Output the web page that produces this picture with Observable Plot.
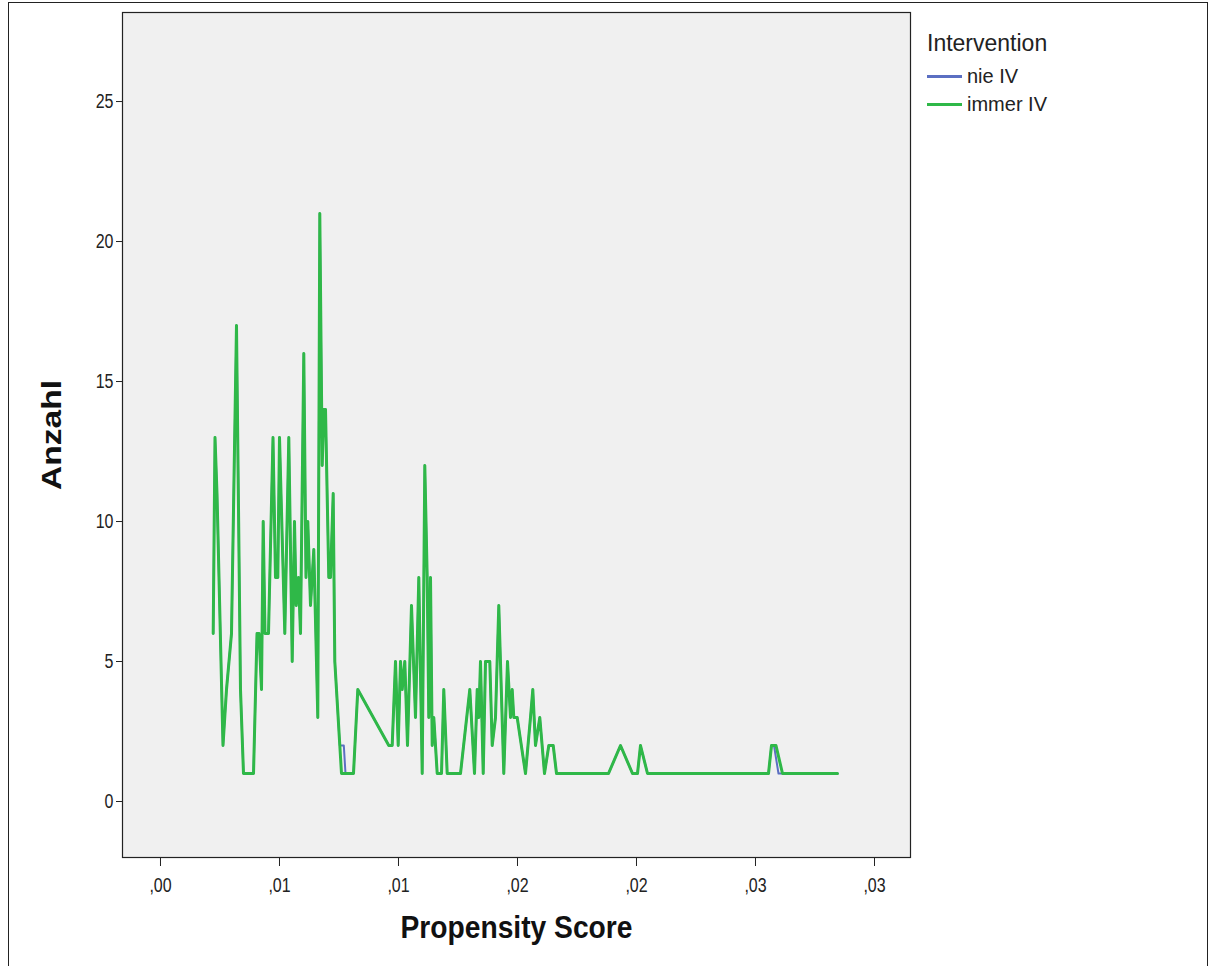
<!DOCTYPE html>
<html>
<head>
<meta charset="utf-8">
<script src="https://cdn.jsdelivr.net/npm/d3@7"></script>
<script src="https://cdn.jsdelivr.net/npm/@observablehq/plot@0.6"></script>
<style>
  html, body { margin: 0; padding: 0; overflow: hidden; background: #fff; }
  #wrap { position: relative; width: 1210px; height: 966px; font-family: "Liberation Sans", Arial, sans-serif; color: #222; }
  #border { position: absolute; left: 8px; top: 2px; width: 1198px; height: 990px; border: 1px solid #222; pointer-events: none; }
  #legend { position: absolute; left: 927px; top: 28px; }
  #legend .title { font-size: 23px; line-height: 30px; margin-bottom: 4px; }
  #legend .item { font-size: 20px; line-height: 28px; height: 28px; display: flex; align-items: center; }
  #legend .sw { display: inline-block; width: 35px; margin-right: 5px; }
</style>
</head>
<body>
<div id="wrap">
  <div id="chart"></div>
  <div id="legend"></div>
  <div id="border"></div>
</div>
<script>
// Frequency polygon of propensity scores, one line per intervention group.
const immerScore = [
  0.002214, 0.002290, 0.002374, 0.002626, 0.002773, 0.002983, 0.003193, 0.003361, 0.003487, 0.003908,
  0.004055, 0.004139, 0.004244, 0.004315, 0.004391, 0.004538, 0.004727, 0.004832, 0.004929, 0.005000,
  0.005223, 0.005391, 0.005534, 0.005630, 0.005702, 0.005798, 0.005882, 0.006021, 0.006113, 0.006189,
  0.006303, 0.006441, 0.006609, 0.006693, 0.006794, 0.006861, 0.006933, 0.007071, 0.007143, 0.007256,
  0.007324, 0.007534, 0.007605, 0.008109, 0.008290, 0.009592, 0.009735, 0.009874, 0.009987, 0.010084,
  0.010155, 0.010265, 0.010378, 0.010546, 0.010714, 0.010853, 0.010996, 0.011105, 0.011206, 0.011273,
  0.011345, 0.011416, 0.011483, 0.011626, 0.011807, 0.011903, 0.012046, 0.012605, 0.012996, 0.013193,
  0.013307, 0.013374, 0.013445, 0.013559, 0.013655, 0.013836, 0.013937, 0.014076, 0.014214, 0.014424,
  0.014580, 0.014706, 0.014777, 0.014845, 0.014987, 0.015336, 0.015546, 0.015643, 0.015756, 0.015937,
  0.016134, 0.016315, 0.016500, 0.016639, 0.018824, 0.019328, 0.019832, 0.020042, 0.020168, 0.020462,
  0.025546, 0.025672, 0.025861, 0.026134, 0.028445
];
const immerCount = [
  6, 13, 11, 2, 4, 6, 17, 4, 1, 1,
  6, 6, 4, 10, 6, 6, 13, 8, 8, 13,
  6, 13, 5, 10, 7, 8, 6, 16, 8, 10,
  7, 9, 3, 21, 12, 14, 14, 8, 8, 11,
  5, 2, 1, 1, 4, 2, 2, 5, 2, 5,
  4, 5, 2, 7, 3, 8, 1, 12, 8, 3,
  8, 2, 3, 1, 1, 4, 1, 1, 4, 1,
  4, 3, 5, 1, 5, 5, 2, 3, 7, 1,
  5, 3, 4, 3, 3, 1, 3, 4, 2, 3,
  1, 2, 2, 1, 1, 2, 1, 1, 2, 1,
  1, 2, 2, 1, 1
];
const nieScore = [
  0.002214, 0.002290, 0.002374, 0.002626, 0.002773, 0.002983, 0.003193, 0.003361, 0.003487, 0.003908,
  0.004055, 0.004139, 0.004244, 0.004315, 0.004391, 0.004538, 0.004727, 0.004832, 0.004929, 0.005000,
  0.005223, 0.005391, 0.005534, 0.005630, 0.005702, 0.005798, 0.005882, 0.006021, 0.006113, 0.006189,
  0.006303, 0.006441, 0.006609, 0.006693, 0.006794, 0.006861, 0.006933, 0.007071, 0.007143, 0.007256,
  0.007324, 0.007534, 0.007702, 0.007773, 0.008109, 0.008290, 0.009592, 0.009735, 0.009874, 0.009987,
  0.010084, 0.010155, 0.010265, 0.010378, 0.010546, 0.010714, 0.010853, 0.010996, 0.011105, 0.011206,
  0.011273, 0.011345, 0.011416, 0.011483, 0.011626, 0.011807, 0.011903, 0.012046, 0.012605, 0.012996,
  0.013193, 0.013307, 0.013374, 0.013445, 0.013559, 0.013655, 0.013836, 0.013937, 0.014076, 0.014214,
  0.014424, 0.014580, 0.014706, 0.014777, 0.014845, 0.014987, 0.015336, 0.015546, 0.015643, 0.015756,
  0.015937, 0.016134, 0.016315, 0.016500, 0.016639, 0.018824, 0.019328, 0.019832, 0.020042, 0.020168,
  0.020462, 0.025546, 0.025672, 0.025777, 0.025966, 0.028445
];
const nieCount = [
  6, 13, 11, 2, 4, 6, 17, 4, 1, 1,
  6, 6, 4, 10, 6, 6, 13, 8, 8, 13,
  6, 13, 5, 10, 7, 8, 6, 16, 8, 10,
  7, 9, 3, 21, 12, 14, 14, 8, 8, 11,
  5, 2, 2, 1, 1, 4, 2, 2, 5, 2,
  5, 4, 5, 2, 7, 3, 8, 1, 12, 8,
  3, 8, 2, 3, 1, 1, 4, 1, 1, 4,
  1, 4, 3, 5, 1, 5, 5, 2, 3, 7,
  1, 5, 3, 4, 3, 3, 1, 3, 4, 2,
  3, 1, 2, 2, 1, 1, 2, 1, 1, 2,
  1, 1, 2, 2, 1, 1
];

const groups = ["nie IV", "immer IV"];
const groupColors = ["#5b6fc2", "#2fb848"];

const xTicks = [0, 0.005, 0.01, 0.015, 0.02, 0.025, 0.03];
const xTickLabels = [",00", ",01", ",01", ",02", ",02", ",03", ",03"];
const yTicks = [0, 5, 10, 15, 20, 25];

const nieRows = nieScore.map((s, i) => ({score: s, count: nieCount[i]}));
const immerRows = immerScore.map((s, i) => ({score: s, count: immerCount[i]}));
const xLabel = new Map(xTicks.map((t, i) => [t, xTickLabels[i]]));

const chart = Plot.plot({
  width: 1210,
  height: 966,
  marginLeft: 122,
  marginRight: 300,
  marginTop: 12,
  marginBottom: 109,
  style: {fontFamily: "'Liberation Sans', Arial, sans-serif", fontSize: "16px", color: "#222", background: "transparent"},
  x: {domain: [-0.0015966, 0.0315126]},
  y: {domain: [-2, 28.18]},
  marks: [
    Plot.frame({fill: "#f0f0f0", stroke: "#222", strokeWidth: 1.2}),
    Plot.axisY(yTicks, {tickSize: 6, tickPadding: 3, fontSize: 16, label: null, stroke: "#222"}),
    Plot.axisX(xTicks, {tickSize: 9, tickPadding: 12, fontSize: 16, label: null, stroke: "#222", tickFormat: d => xLabel.get(d)}),
    Plot.line(nieRows, {x: "score", y: "count", stroke: groupColors[0], strokeWidth: 2}),
    Plot.line(immerRows, {x: "score", y: "count", stroke: groupColors[1], strokeWidth: 3}),
    Plot.text(["Anzahl"], {frameAnchor: "left", textAnchor: "middle", dx: -70, rotate: -90, fontSize: 28, fontWeight: "bold", fill: "#111"}),
    Plot.text(["Propensity Score"], {frameAnchor: "bottom", textAnchor: "middle", dy: 80, fontSize: 31, fontWeight: "bold", fill: "#111"})
  ]
});

// Tick labels drawn slightly tall; axis titles fitted to their set lengths.
const tickTexts = new Set([...yTicks.map(String), ...xTickLabels]);
const svg = d3.select(chart);
svg.selectAll("text").each(function () {
  const t = this.textContent;
  const el = d3.select(this);
  if (tickTexts.has(t)) {
    let tr = this.getAttribute("transform");
    if (!tr) {
      const x = +(this.getAttribute("x") || 0), y = +(this.getAttribute("y") || 0);
      el.attr("x", null).attr("y", null);
      tr = `translate(${x},${y})`;
    }
    el.style("font-size", "16px").attr("transform", tr + " scale(1,1.22)");
  }
  if (t === "Anzahl") el.attr("textLength", 110).attr("lengthAdjust", "spacingAndGlyphs");
  if (t === "Propensity Score") el.attr("textLength", 232).attr("lengthAdjust", "spacingAndGlyphs");
});
document.getElementById("chart").appendChild(chart);

// Legend for the two intervention groups
const legend = document.getElementById("legend");
const title = document.createElement("div");
title.className = "title";
title.textContent = "Intervention";
legend.appendChild(title);
groups.forEach((g, i) => {
  const item = document.createElement("div");
  item.className = "item";
  const sw = document.createElement("span");
  sw.className = "sw";
  sw.style.height = "3px";
  sw.style.background = groupColors[i];
  item.appendChild(sw);
  item.appendChild(document.createTextNode(g));
  legend.appendChild(item);
});
</script>
</body>
</html>
